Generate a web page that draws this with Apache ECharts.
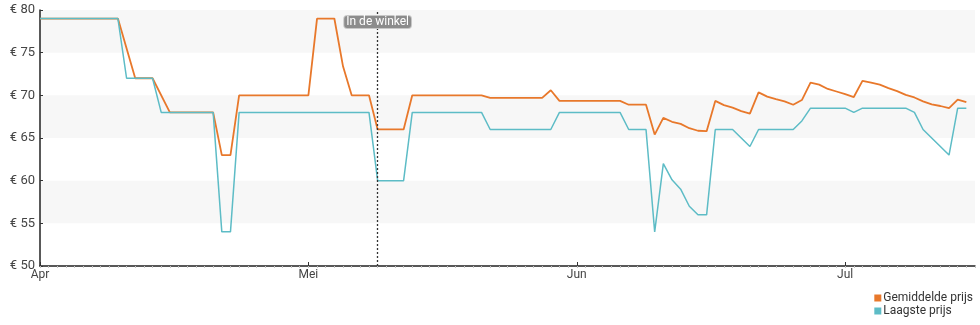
<!DOCTYPE html>
<html>
<head>
<meta charset="utf-8">
<script src="https://cdn.jsdelivr.net/npm/echarts@6/dist/echarts.min.js"></script>
<style>
html,body{margin:0;padding:0;background:#fff;}
#chart{width:980px;height:325px;}
</style>
</head>
<body>
<div id="chart"></div>
<script>
// x values are day offsets from the start of the axis
const monthLabels = ['Apr', 'Mei', 'Jun', 'Jul'];
const monthTickDays = [0, 31, 62, 93];
const axisEndDay = 108;

const avgName = 'Gemiddelde prijs';
const avgDays = [0, 9, 11, 13, 15, 20, 21, 22, 23, 31, 32, 34, 35, 36, 38, 39, 42, 43, 51, 52, 58, 59, 60, 67, 68, 70, 71, 72, 73, 74, 75, 76, 77, 78, 79, 80, 81, 82, 83, 84, 85, 86, 87, 88, 89, 90, 91, 92, 93, 94, 95, 96, 97, 98, 99, 100, 101, 102, 103, 104, 105, 106, 107];
const avgPrices = [79, 79, 72, 72, 68, 68, 63, 63, 70, 70, 79, 79, 73.4, 70, 70, 66, 66, 70, 70, 69.7, 69.7, 70.6, 69.35, 69.35, 68.9, 68.9, 65.4, 67.35, 66.9, 66.65, 66.15, 65.85, 65.8, 69.35, 68.85, 68.55, 68.15, 67.85, 70.35, 69.85, 69.55, 69.3, 68.9, 69.45, 71.5, 71.25, 70.75, 70.45, 70.15, 69.8, 71.7, 71.5, 71.25, 70.85, 70.5, 70.05, 69.75, 69.3, 68.95, 68.75, 68.5, 69.5, 69.2];

const lowName = 'Laagste prijs';
const lowDays = [0, 9, 10, 13, 14, 20, 21, 22, 23, 38, 39, 42, 43, 51, 52, 59, 60, 67, 68, 70, 71, 72, 73, 74, 75, 76, 77, 78, 80, 82, 83, 87, 88, 89, 93, 94, 95, 100, 101, 102, 105, 106, 107];
const lowPrices = [79, 79, 72, 72, 68, 68, 54, 54, 68, 68, 60, 60, 68, 68, 66, 66, 68, 68, 66, 66, 54, 62, 60.1, 59, 57, 56, 56, 66, 66, 64, 66, 66, 67, 68.5, 68.5, 68, 68.5, 68.5, 68, 66, 63, 68.5, 68.5];

const storeDay = 39;
const storeLabel = 'In de winkel';

const priceMin = 50, priceMax = 80, priceStep = 5;

const avgColor = '#e8782b';
const lowColor = '#5dbcc6';

const chart = echarts.init(document.getElementById('chart'), null, {renderer: 'canvas'});
const font = 'Roboto';
chart.setOption({
  animation: false,
  textStyle: {fontFamily: font},
  grid: {left: 40, right: 5, top: 10, bottom: 59, containLabel: false},
  legend: {
    orient: 'vertical', right: 2, top: 287, align: 'left',
    icon: 'rect', itemWidth: 7, itemHeight: 7, itemGap: 1,
    textStyle: {fontFamily: font, fontSize: 12, color: '#333', padding: [0, 0, 0, -3]},
    data: [avgName, lowName]
  },
  xAxis: [{
    type: 'value', min: 0, max: axisEndDay, interval: 31,
    axisLine: {show: true, lineStyle: {color: '#222', width: 1.5}},
    axisTick: {show: true, inside: true, length: 4, lineStyle: {color: '#333'}},
    axisLabel: {
      fontFamily: font, fontSize: 12, color: '#444', margin: 3,
      showMaxLabel: false,
      formatter: function (v) { const i = monthTickDays.indexOf(v); return i >= 0 ? monthLabels[i] : ''; }
    },
    splitLine: {show: false}
  }, {
    type: 'value', min: 0, max: axisEndDay, interval: 1, position: 'bottom',
    axisLine: {show: false},
    axisTick: {show: true, length: 2, lineStyle: {color: '#c4c4c4'}},
    axisLabel: {show: false},
    splitLine: {show: false}
  }],
  yAxis: {
    type: 'value', min: priceMin, max: priceMax, interval: priceStep,
    axisLine: {show: true, lineStyle: {color: '#222', width: 1.5}},
    axisTick: {show: true, inside: true, length: 3, lineStyle: {color: '#333'}},
    axisLabel: {fontFamily: font, fontSize: 13, color: '#444', margin: 5, formatter: function (v) { return '€ ' + v; }},
    splitLine: {show: false},
    splitArea: {show: true, areaStyle: {color: ['rgba(255,255,255,0)', '#f7f7f7']}}
  },
  series: [{
    name: avgName, type: 'line', xAxisIndex: 0,
    data: avgDays.map((d, i) => [d, avgPrices[i]]),
    showSymbol: false, symbol: 'rect', itemStyle: {color: avgColor},
    lineStyle: {color: avgColor, width: 1.8},
    markLine: {
      silent: true, symbol: 'none', animation: false,
      lineStyle: {color: '#333', type: [2, 2], width: 1.3},
      label: {
        show: true, position: 'end', distance: -18, formatter: storeLabel,
        fontFamily: font, fontSize: 12, color: '#fff',
        backgroundColor: '#8c8c8c', borderColor: '#c8c8c8', borderWidth: 1,
        borderRadius: 3, padding: [0, 2, 0, 2]
      },
      data: [{xAxis: storeDay}]
    }
  }, {
    name: lowName, type: 'line', xAxisIndex: 0,
    data: lowDays.map((d, i) => [d, lowPrices[i]]),
    showSymbol: false, symbol: 'rect', itemStyle: {color: lowColor},
    lineStyle: {color: lowColor, width: 1.5}
  }]
});
</script>
</body>
</html>
